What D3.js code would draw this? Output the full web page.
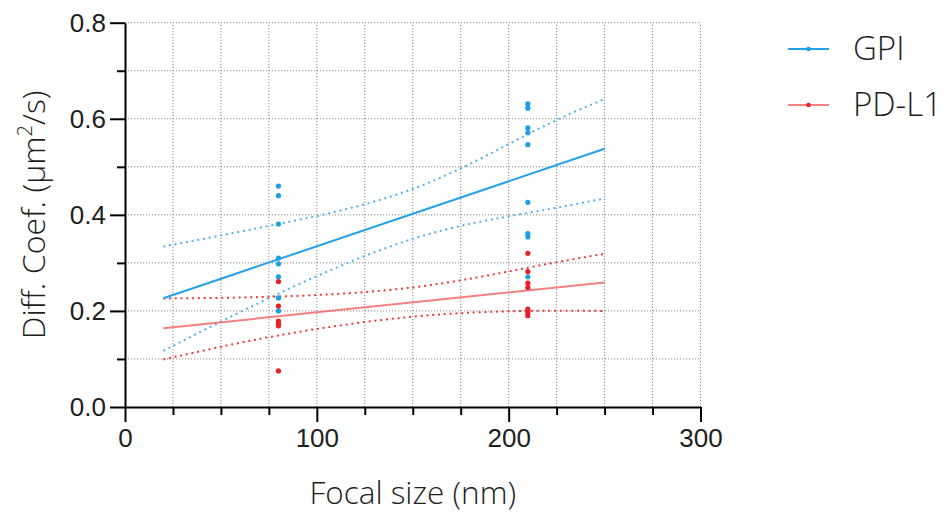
<!DOCTYPE html>
<html>
<head>
<meta charset="utf-8">
<script src="https://cdn.jsdelivr.net/npm/d3@7"></script>
<style>
  html, body { margin: 0; padding: 0; background: #fff; }
  svg { display: block; font-family: "Open Sans", "Liberation Sans", sans-serif; }
</style>
</head>
<body>
<svg id="chart" width="947" height="518"></svg>
<script>
// Focal size (nm) groups
const focalSizes = [80, 210];

// Diffusion coefficients per group (µm²/s)
const gpiAt80  = [0.460, 0.440, 0.381, 0.310, 0.298, 0.271, 0.227, 0.200];
const gpiAt210 = [0.631, 0.622, 0.581, 0.571, 0.546, 0.426, 0.361, 0.354, 0.271];
const pdl1At80  = [0.261, 0.210, 0.179, 0.174, 0.169, 0.075];
const pdl1At210 = [0.320, 0.282, 0.258, 0.249, 0.204, 0.196, 0.190];

// Linear fits (value at x = 20 and x = 250)
const fitRange = [20, 250];
const gpiFit  = [0.2264, 0.5375];
const pdl1Fit = [0.164, 0.259];

// 95% confidence bands sampled along the fit range
const bandX     = [20, 80, 150, 210, 250];
const gpiUpper  = [0.334, 0.381, 0.454, 0.568, 0.641];
const gpiLower  = [0.117, 0.236, 0.350, 0.404, 0.434];
const pdl1Upper = [0.226, 0.230, 0.249, 0.290, 0.319];
const pdl1Lower = [0.099, 0.149, 0.188, 0.200, 0.200];

// Axis ticks
const xMajor = [0, 100, 200, 300];
const xMinor = [25, 50, 75, 125, 150, 175, 225, 250, 275];
const yMajor = [0.0, 0.2, 0.4, 0.6, 0.8];
const yMinor = [0.1, 0.3, 0.5, 0.7];

const series = [
  { name: "GPI", groups: [gpiAt80, gpiAt210], fit: gpiFit, upper: gpiUpper, lower: gpiLower,
    point: "#1b9fe6", line: "#24a2e8", band: "#4fb2ec" },
  { name: "PD-L1", groups: [pdl1At80, pdl1At210], fit: pdl1Fit, upper: pdl1Upper, lower: pdl1Lower,
    point: "#ee1c24", line: "rgba(242,96,96,0.8)", band: "#ec3a3a" }
];

const svg = d3.select("#chart");
const x = d3.scaleLinear().domain([0, 300]).range([125, 700.5]);
const y = d3.scaleLinear().domain([0, 0.8]).range([407, 22.7]);

// Dotted grid on every tick position
const grid = svg.append("g");
grid.selectAll("line.gx").data(xMajor.concat(xMinor).filter(d => d > 0)).join("line")
  .attr("x1", d => x(d)).attr("x2", d => x(d))
  .attr("y1", y(0)).attr("y2", y(0.8))
  .attr("stroke", "#8a8a8a").attr("stroke-width", 1).attr("stroke-dasharray", "1.2,1.8");
grid.selectAll("line.gy").data(yMajor.concat(yMinor).filter(d => d > 0)).join("line")
  .attr("x1", x(0)).attr("x2", x(300))
  .attr("y1", d => y(d)).attr("y2", d => y(d))
  .attr("stroke", "#8a8a8a").attr("stroke-width", 1).attr("stroke-dasharray", "1.2,1.8");

// Axes
const textColor = "#1e1e1e";
function styleAxis(g) {
  g.select(".domain").attr("stroke", "#000").attr("stroke-width", 2);
  g.selectAll(".tick line").attr("stroke", "#000").attr("stroke-width", 2);
  g.selectAll(".tick text").attr("fill", textColor).attr("font-size", 26).attr("font-weight", 300);
}
const xAxis = svg.append("g").attr("transform", `translate(0,${y(0)})`)
  .call(d3.axisBottom(x).tickValues(xMajor).tickFormat(d3.format("d")).tickSize(15).tickPadding(7).tickSizeOuter(0));
styleAxis(xAxis);
svg.append("g").attr("transform", `translate(0,${y(0)})`)
  .call(d3.axisBottom(x).tickValues(xMinor).tickFormat("").tickSize(8).tickSizeOuter(0))
  .call(g => { g.select(".domain").remove(); g.selectAll("line").attr("stroke", "#000").attr("stroke-width", 2); });

const yAxis = svg.append("g").attr("transform", `translate(${x(0)},0)`)
  .call(d3.axisLeft(y).tickValues(yMajor).tickFormat(d3.format(".1f")).tickSize(15).tickPadding(4).tickSizeOuter(0));
styleAxis(yAxis);
svg.append("g").attr("transform", `translate(${x(0)},0)`)
  .call(d3.axisLeft(y).tickValues(yMinor).tickFormat("").tickSize(8).tickSizeOuter(0))
  .call(g => { g.select(".domain").remove(); g.selectAll("line").attr("stroke", "#000").attr("stroke-width", 2); });

// Axis titles
svg.append("text")
  .attr("x", x(150)).attr("y", 504)
  .attr("text-anchor", "middle").attr("fill", textColor)
  .attr("font-size", 31.5).attr("font-weight", 300)
  .text("Focal size (nm)");
const yTitle = svg.append("text")
  .attr("transform", `translate(45,${y(0.4)}) rotate(-90)`)
  .attr("text-anchor", "middle").attr("fill", textColor)
  .attr("font-size", 32).attr("font-weight", 300);
yTitle.append("tspan").text("Diff. Coef. (μm");
yTitle.append("tspan").attr("dy", -13).attr("font-size", 20).text("2");
yTitle.append("tspan").attr("dy", 13).text("/s)");

// Bands, fit lines and points
const bandLine = d3.line().x((d, i) => x(bandX[i])).y(d => y(d)).curve(d3.curveNatural);
series.forEach(s => {
  [s.upper, s.lower].forEach(b => {
    svg.append("path").attr("d", bandLine(b))
      .attr("fill", "none").attr("stroke", s.band)
      .attr("stroke-width", 2).attr("stroke-dasharray", "2,3.8");
  });
});
series.forEach(s => {
  svg.append("line")
    .attr("x1", x(fitRange[0])).attr("x2", x(fitRange[1]))
    .attr("y1", y(s.fit[0])).attr("y2", y(s.fit[1]))
    .attr("stroke", s.line).attr("stroke-width", 2);
});
series.forEach(s => {
  const pts = [];
  s.groups.forEach((vals, gi) => vals.forEach(v => pts.push([focalSizes[gi], v])));
  svg.append("g").selectAll("circle").data(pts).join("circle")
    .attr("cx", d => x(d[0])).attr("cy", d => y(d[1])).attr("r", 2.6)
    .attr("fill", s.point);
});

// Legend
const legend = svg.append("g");
series.forEach((s, i) => {
  const ly = 49 + i * 56;
  legend.append("line").attr("x1", 788).attr("x2", 829).attr("y1", ly).attr("y2", ly)
    .attr("stroke", s.line).attr("stroke-width", 2);
  legend.append("circle").attr("cx", 808.5).attr("cy", ly).attr("r", 2.3).attr("fill", s.point);
  legend.append("text").attr("x", 853).attr("y", ly + 11)
    .attr("fill", textColor).attr("font-size", 33).attr("font-weight", 300)
    .text(s.name);
});
</script>
</body>
</html>
